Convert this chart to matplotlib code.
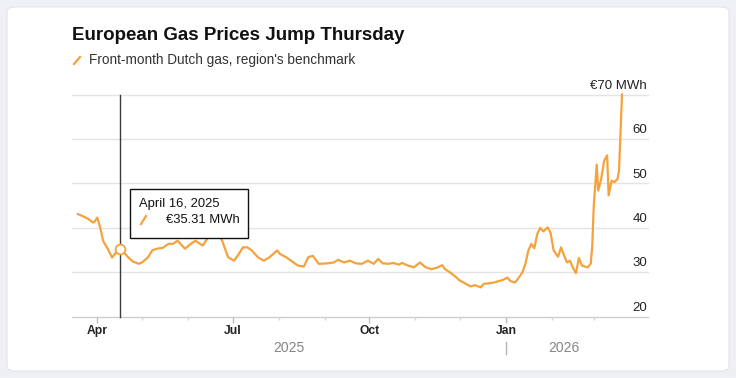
import numpy as np
import pandas as pd
import matplotlib
matplotlib.use("Agg")
import matplotlib.pyplot as plt
import matplotlib.dates as mdates
import matplotlib.transforms as mtransforms
from matplotlib.patches import FancyBboxPatch

# front-month Dutch TTF, EUR/MWh
dates = [
    "2025-03-19", "2025-03-23", "2025-03-26", "2025-03-29", "2025-03-30", "2025-04-01",
    "2025-04-03", "2025-04-05", "2025-04-08", "2025-04-11", "2025-04-13", "2025-04-16",
    "2025-04-19", "2025-04-22", "2025-04-25", "2025-04-29", "2025-05-01", "2025-05-05",
    "2025-05-08", "2025-05-11", "2025-05-15", "2025-05-19", "2025-05-22", "2025-05-25",
    "2025-05-30", "2025-06-03", "2025-06-06", "2025-06-11", "2025-06-14", "2025-06-17",
    "2025-06-21", "2025-06-24", "2025-06-28", "2025-07-02", "2025-07-05", "2025-07-08",
    "2025-07-11", "2025-07-14", "2025-07-18", "2025-07-22", "2025-07-26", "2025-07-31",
    "2025-08-02", "2025-08-06", "2025-08-11", "2025-08-14", "2025-08-18", "2025-08-21",
    "2025-08-24", "2025-08-28", "2025-09-03", "2025-09-07", "2025-09-10", "2025-09-14",
    "2025-09-18", "2025-09-22", "2025-09-26", "2025-09-30", "2025-10-04", "2025-10-07",
    "2025-10-10", "2025-10-14", "2025-10-17", "2025-10-21", "2025-10-23", "2025-10-27",
    "2025-10-31", "2025-11-04", "2025-11-08", "2025-11-12", "2025-11-16", "2025-11-19",
    "2025-11-21", "2025-11-25", "2025-11-28", "2025-12-01", "2025-12-05", "2025-12-08",
    "2025-12-11", "2025-12-15", "2025-12-17", "2025-12-20", "2025-12-24", "2025-12-27",
    "2025-12-30", "2026-01-02", "2026-01-04", "2026-01-07", "2026-01-09", "2026-01-12",
    "2026-01-14", "2026-01-16", "2026-01-18", "2026-01-20", "2026-01-22", "2026-01-24",
    "2026-01-26", "2026-01-29", "2026-01-31", "2026-02-02", "2026-02-05", "2026-02-07",
    "2026-02-09", "2026-02-11", "2026-02-13", "2026-02-15", "2026-02-17", "2026-02-19",
    "2026-02-21", "2026-02-25", "2026-02-27", "2026-02-28", "2026-03-01", "2026-03-03",
    "2026-03-04", "2026-03-06", "2026-03-08", "2026-03-10", "2026-03-11", "2026-03-13",
    "2026-03-15", "2026-03-17", "2026-03-18", "2026-03-20",
]
prices = [
    43.1, 42.5, 42.0, 41.2, 41.3, 42.3,
    40.0, 37.0, 35.3, 33.3, 34.2, 35.31,
    34.4, 33.3, 32.4, 31.9, 32.2, 33.3,
    34.9, 35.3, 35.5, 36.4, 36.4, 37.1,
    35.3, 36.4, 37.1, 36.0, 37.6, 39.5,
    39.0, 37.1, 33.4, 32.6, 34.0, 35.6,
    35.6, 34.9, 33.4, 32.6, 33.4, 34.9,
    34.1, 33.4, 32.2, 31.5, 31.3, 33.4,
    33.7, 31.9, 32.0, 32.2, 32.8, 32.2,
    32.6, 32.0, 31.9, 32.6, 31.9, 33.0,
    32.0, 31.9, 32.1, 31.7, 32.1, 31.5,
    31.1, 32.2, 31.1, 30.7, 31.1, 31.6,
    30.7, 29.8, 29.0, 28.1, 27.4, 26.8,
    27.1, 26.6, 27.4, 27.5, 27.7, 28.0,
    28.3, 28.8, 28.0, 27.7, 28.5, 30.0,
    31.9, 34.9, 36.4, 35.4, 38.6, 40.0,
    39.2, 40.1, 38.8, 34.9, 33.5, 35.6,
    33.8, 32.2, 32.6, 31.0, 29.8, 33.2,
    31.5, 31.1, 32.0, 36.0, 45.0, 54.2,
    48.4, 51.0, 55.1, 56.3, 47.3, 50.6,
    50.3, 51.0, 52.9, 70.0,
]
yticks = [20, 30, 40, 50, 60, 70]
hover_date = "2025-04-16"
hover_value = 35.31

ORANGE = "#f5a23c"
W, H = 736, 378

plt.rcParams["font.family"] = ["Liberation Sans", "DejaVu Sans"]

def fx(x):
    return x / W

def fy(y):
    return 1 - y / H

dt = pd.to_datetime(dates)

fig = plt.figure(figsize=(W / 100, H / 100), dpi=100, facecolor="#eef0f4")
card = FancyBboxPatch((fx(7), fy(371)), fx(729) - fx(7), fy(7) - fy(371),
                      boxstyle="round,pad=0,rounding_size=0.012",
                      transform=fig.transFigure, facecolor="white",
                      edgecolor="#e2e5ea", linewidth=0.8, zorder=-10)
fig.patches.append(card)

# axes spans the data only; gridlines run on to the right under the labels
left, right = 72, 622
ax = fig.add_axes([fx(left), fy(316.7), fx(right) - fx(left), fy(94.5) - fy(316.7)])
ax.set_facecolor("none")
ax.plot(dt, prices, color=ORANGE, lw=1.6, solid_joinstyle="round", clip_on=False, zorder=3)

ax.set_ylim(20, 70)
ax.set_xlim(pd.Timestamp("2025-03-15"), dt[-1])
for s in ax.spines.values():
    s.set_visible(False)
ax.tick_params(axis="y", left=False, labelleft=False)
grid_end = (648 - left) / (right - left)
for v in yticks:
    c = "#cfcfcf" if v == yticks[0] else "#e4e4e4"
    ax.axhline(v, xmin=0, xmax=grid_end, color=c, lw=1, clip_on=False, zorder=1)

# y labels sit just above their gridlines on the right
lab_x = (647 - left) / (right - left)
ylab = mtransforms.offset_copy(ax.get_yaxis_transform(), fig=fig, x=0, y=2, units="points")
for v in yticks:
    txt = "€%d MWh" % v if v == yticks[-1] else str(v)
    ax.text(lab_x, v, txt, transform=ylab, ha="right", va="bottom", fontsize=9.5, color="#222")

ax.xaxis.set_major_locator(mdates.MonthLocator(bymonth=[1, 4, 7, 10]))
ax.xaxis.set_major_formatter(mdates.DateFormatter("%b"))
ax.xaxis.set_minor_locator(mdates.MonthLocator())
ax.tick_params(axis="x", which="major", length=4.5, width=1, color="#bdbdbd", pad=1.5,
               labelsize=8.7, labelcolor="#222")
ax.tick_params(axis="x", which="minor", length=2.5, width=1, color="#d6d6d6")
for lab in ax.get_xticklabels():
    lab.set_fontweight("bold")

# year row
xlo, xhi = ax.get_xlim()
jan1 = mdates.date2num(pd.Timestamp("2026-01-01"))
yr = mtransforms.blended_transform_factory(ax.transData, ax.transAxes)
ax.text((xlo + jan1) / 2, -0.14, "2025", transform=yr, ha="center", va="center",
        fontsize=10, color="#858585")
ax.text((jan1 + xhi) / 2, -0.14, "2026", transform=yr, ha="center", va="center",
        fontsize=10, color="#858585")
ax.plot([jan1, jan1], [-0.115, -0.17], transform=yr, color="#b5b5b5", lw=1, clip_on=False)

# hover crosshair + tooltip
hx = pd.Timestamp(hover_date)
ax.plot([hx, hx], [20, 70], color="#3a3a3a", lw=1, clip_on=False, zorder=2)
ax.plot([hx], [hover_value], marker="o", ms=7, mfc="white", mec=ORANGE, mew=1.3, zorder=4)
box = FancyBboxPatch((fx(129.5), fy(238)), fx(247.5) - fx(129.5), fy(189) - fy(238),
                     boxstyle="square,pad=0", transform=fig.transFigure,
                     facecolor="white", edgecolor="#111", lw=1, zorder=5)
fig.patches.append(box)
d = pd.Timestamp(hover_date)
fig.text(fx(139), fy(204), "%s %d, %d" % (d.strftime("%B"), d.day, d.year),
         fontsize=9.4, color="#111", va="center", ha="left", zorder=6)
fig.text(fx(166), fy(220), "€%.2f MWh" % hover_value,
         fontsize=9.4, color="#111", va="center", ha="left", zorder=6)
fig.add_artist(plt.Line2D([fx(141), fx(146)], [fy(224), fy(216)], color=ORANGE, lw=1.6, zorder=6))

# title + key
fig.text(fx(72), fy(36), "European Gas Prices Jump Thursday", fontsize=13.5,
         fontweight="bold", color="#111", va="center", ha="left")
fig.add_artist(plt.Line2D([fx(74), fx(80)], [fy(64), fy(57)], color=ORANGE, lw=1.6))
fig.text(fx(89), fy(60), "Front-month Dutch gas, region's benchmark", fontsize=9.8,
         color="#333", va="center", ha="left")

fig.savefig("out.png", dpi=100, facecolor=fig.get_facecolor())
